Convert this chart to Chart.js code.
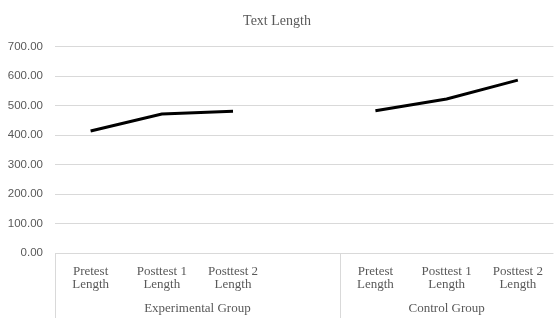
<!DOCTYPE html>
<html>
<head>
<meta charset="utf-8">
<script src="https://cdn.jsdelivr.net/npm/chart.js@4"></script>
<style>
  html, body { margin: 0; padding: 0; background: #fff; }
  #wrap { width: 555px; height: 318px; }
</style>
</head>
<body>
<div id="wrap"><canvas id="text-length"></canvas></div>
<script>
// categories (blank slot separates the two groups)
const categories = [
    ['Pretest', 'Length'], ['Posttest 1', 'Length'], ['Posttest 2', 'Length'],
    '',
    ['Pretest', 'Length'], ['Posttest 1', 'Length'], ['Posttest 2', 'Length']
]
const textLength = [414, 472, 481, null, 483, 523, 587]
const groupNames = ['Experimental Group', 'Control Group']
const groupStart = [0, 4]
const groupSize = [4, 3]
const yTicks = [0, 100, 200, 300, 400, 500, 600, 700]

const groupLabels = {
    id: 'groupLabels',
    afterDraw(chart) {
        const x = chart.scales.x
        const ctx = chart.ctx
        const step = x.getPixelForValue(1) - x.getPixelForValue(0)
        const top = chart.chartArea.bottom
        const bottom = chart.height
        ctx.save()
        ctx.strokeStyle = '#d9d9d9'
        ctx.lineWidth = 1
        ctx.fillStyle = '#595959'
        ctx.font = '13px "Liberation Serif", serif'
        ctx.textAlign = 'center'
        ctx.textBaseline = 'middle'
        for (let i = 0; i < groupNames.length; i++) {
            const left = x.getPixelForValue(groupStart[i]) - step / 2
            const right = left + step * groupSize[i]
            const lx = Math.round(left) + 0.5
            ctx.beginPath()
            ctx.moveTo(lx, top)
            ctx.lineTo(lx, bottom)
            ctx.stroke()
            ctx.fillText(groupNames[i], (left + right) / 2, 309)
        }
        ctx.restore()
    }
}

new Chart(document.getElementById('text-length'), {
    type: 'line',
    data: {
        labels: categories,
        datasets: [{
            label: 'Text Length',
            data: textLength,
            borderColor: '#000000',
            borderWidth: 3,
            pointRadius: 0,
            spanGaps: false,
            tension: 0
        }]
    },
    options: {
        responsive: true,
        maintainAspectRatio: false,
        animation: false,
        layout: { padding: { left: 0, right: 1, top: 0, bottom: 0 } },
        plugins: {
            legend: { display: false },
            tooltip: { enabled: false },
            title: {
                display: true,
                text: 'Text Length',
                color: '#595959',
                font: { family: '"Liberation Serif", serif', size: 14, weight: 'normal', lineHeight: 1.2 },
                padding: { top: 13, bottom: 17 }
            }
        },
        scales: {
            x: {
                offset: true,
                grid: { display: false, drawTicks: false },
                border: { display: false },
                ticks: {
                    color: '#595959',
                    font: { family: '"Liberation Serif", serif', size: 13, lineHeight: 1.0 },
                    padding: 12,
                    maxRotation: 0,
                    autoSkip: false
                },
                afterFit(scale) { scale.height = 65 }
            },
            y: {
                min: 0,
                max: 700,
                afterBuildTicks(scale) { scale.ticks = yTicks.map(v => ({ value: v })) },
                grid: { color: '#d9d9d9', drawTicks: false },
                border: { display: false },
                ticks: {
                    color: '#595959',
                    font: { family: '"Liberation Sans", sans-serif', size: 11.5 },
                    padding: 12,
                    callback: v => v.toFixed(2)
                },
                afterFit(scale) { scale.width = 55 }
            }
        }
    },
    plugins: [groupLabels]
})
</script>
</body>
</html>
